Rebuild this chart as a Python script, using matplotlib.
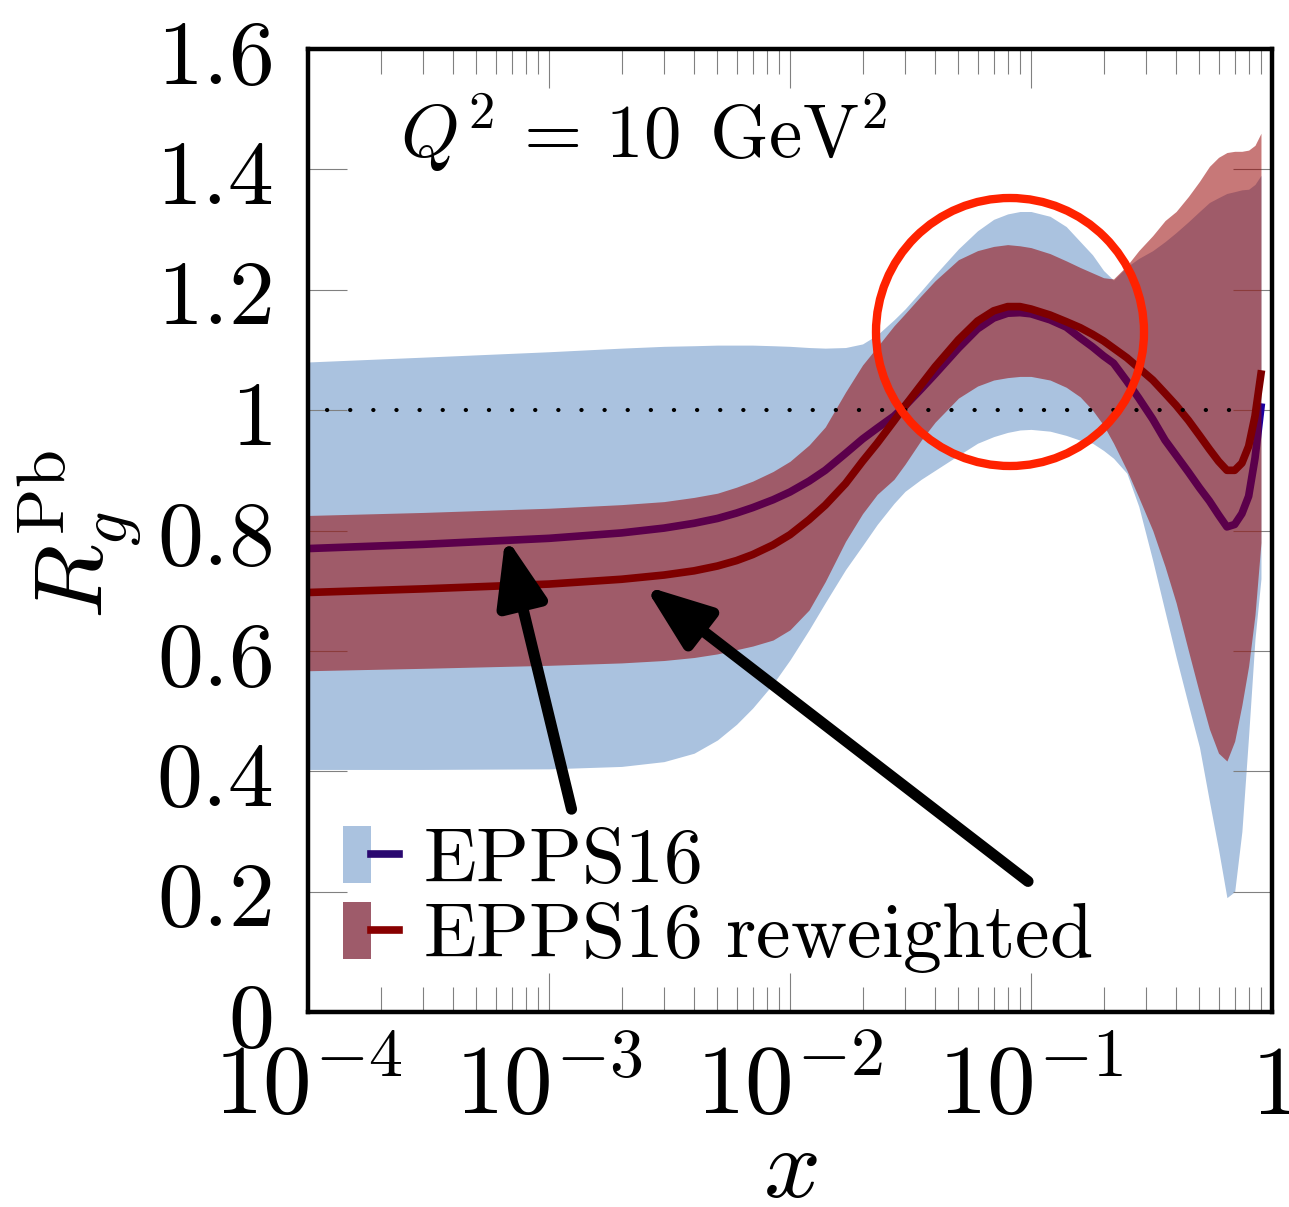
import matplotlib
matplotlib.use("Agg")
import matplotlib.pyplot as plt
from matplotlib.patches import Patch, Ellipse
from matplotlib.lines import Line2D
from matplotlib.legend_handler import HandlerTuple
import numpy as np

plt.rcParams['mathtext.fontset'] = 'cm'
plt.rcParams['font.family'] = ['DejaVu Serif']

# ---- data ----
x = [1e-4, 3e-4, 1e-3, 2e-3, 3e-3, 4e-3, 5e-3, 6e-3, 7e-3, 8.5e-3,
     0.01, 0.012, 0.014, 0.017, 0.02, 0.023, 0.027, 0.03, 0.035, 0.04,
     0.05, 0.06, 0.07, 0.08, 0.09, 0.1, 0.12, 0.14, 0.16, 0.18,
     0.2, 0.22, 0.25, 0.28, 0.32, 0.36, 0.4, 0.45, 0.5, 0.55,
     0.6, 0.65, 0.7, 0.75, 0.8, 0.85, 0.9]

epps_central = [0.770, 0.777, 0.787, 0.796, 0.804, 0.812, 0.820, 0.829, 0.838, 0.851,
                0.864, 0.882, 0.900, 0.928, 0.952, 0.970, 0.990, 1.007, 1.035, 1.060,
                1.103, 1.135, 1.153, 1.161, 1.162, 1.160, 1.150, 1.138, 1.120, 1.105,
                1.090, 1.078, 1.048, 1.020, 0.985, 0.950, 0.925, 0.897, 0.871, 0.849,
                0.826, 0.806, 0.810, 0.828, 0.857, 0.920, 1.005]
epps_upper = [1.080, 1.088, 1.097, 1.103, 1.106, 1.107, 1.108, 1.108, 1.108, 1.107,
              1.106, 1.104, 1.103, 1.104, 1.110, 1.125, 1.150, 1.168, 1.198, 1.225,
              1.268, 1.298, 1.317, 1.326, 1.330, 1.330, 1.322, 1.305, 1.280, 1.258,
              1.232, 1.216, 1.238, 1.252, 1.265, 1.280, 1.295, 1.313, 1.330, 1.345,
              1.353, 1.360, 1.363, 1.366, 1.367, 1.375, 1.390]
epps_lower = [0.403, 0.403, 0.404, 0.408, 0.416, 0.430, 0.452, 0.478, 0.505, 0.545,
              0.585, 0.635, 0.680, 0.735, 0.775, 0.810, 0.845, 0.865, 0.885, 0.900,
              0.925, 0.945, 0.956, 0.963, 0.967, 0.968, 0.965, 0.958, 0.950, 0.945,
              0.933, 0.920, 0.895, 0.840, 0.750, 0.665, 0.590, 0.510, 0.440, 0.350,
              0.270, 0.190, 0.200, 0.300, 0.460, 0.620, 0.720]

rew_central = [0.697, 0.703, 0.711, 0.719, 0.726, 0.733, 0.741, 0.750, 0.760, 0.776,
               0.793, 0.818, 0.842, 0.878, 0.915, 0.945, 0.982, 1.007, 1.042, 1.072,
               1.117, 1.148, 1.165, 1.172, 1.172, 1.168, 1.158, 1.147, 1.137, 1.126,
               1.115, 1.103, 1.087, 1.070, 1.050, 1.028, 1.008, 0.983, 0.958, 0.935,
               0.915, 0.900, 0.900, 0.912, 0.940, 0.990, 1.060]
rew_upper = [0.825, 0.830, 0.837, 0.843, 0.848, 0.855, 0.862, 0.872, 0.882, 0.898,
             0.915, 0.942, 0.972, 1.030, 1.075, 1.105, 1.140, 1.160, 1.190, 1.215,
             1.250, 1.265, 1.272, 1.275, 1.273, 1.270, 1.260, 1.248, 1.237, 1.228,
             1.220, 1.218, 1.240, 1.265, 1.290, 1.315, 1.330, 1.355, 1.380, 1.405,
             1.420, 1.428, 1.430, 1.430, 1.432, 1.440, 1.460]
rew_lower = [0.567, 0.571, 0.576, 0.580, 0.584, 0.589, 0.595, 0.602, 0.608, 0.618,
             0.635, 0.668, 0.715, 0.782, 0.828, 0.860, 0.885, 0.910, 0.950, 0.980,
             1.020, 1.040, 1.050, 1.054, 1.056, 1.056, 1.050, 1.038, 1.022, 1.000,
             0.975, 0.945, 0.900, 0.855, 0.800, 0.740, 0.680, 0.600, 0.530, 0.470,
             0.430, 0.417, 0.450, 0.510, 0.575, 0.660, 0.780]

xticks_major = [1e-4, 1e-3, 1e-2, 1e-1, 1]
xtick_labels = [r'$10^{-4}$', r'$10^{-3}$', r'$10^{-2}$', r'$10^{-1}$', r'$1$']
yticks = [0, 0.2, 0.4, 0.6, 0.8, 1.0, 1.2, 1.4, 1.6]
ytick_labels = [r'$0$', r'$0.2$', r'$0.4$', r'$0.6$', r'$0.8$', r'$1$', r'$1.2$', r'$1.4$', r'$1.6$']

series_labels = [r'$\mathrm{EPPS16}$', r'$\mathrm{EPPS16\ reweighted}$']

# ---- styles ----
blue_band = '#AAC2DF'
blue_line = '#1A00A0'
blue_line_legend = '#2A0870'
red_band = (150/255, 0, 0, 0.53)
red_band_legend = '#9E5B6A'
red_line = '#7E0000'

fig = plt.figure(figsize=(12.89, 12.07), dpi=100)
ax = fig.add_axes([308/1289, 1 - 1012/1207, 964/1289, 963/1207])

ax.fill_between(x, epps_lower, epps_upper, color=blue_band, lw=0, zorder=1)
ax.plot(x, epps_central, color=blue_line, lw=5.5, zorder=2, solid_joinstyle='round')
ax.fill_between(x, rew_lower, rew_upper, color=red_band, lw=0, zorder=3)
ax.plot(x, rew_central, color=red_line, lw=5.5, zorder=4, solid_joinstyle='round')
ax.axhline(1.0, xmin=0.02, xmax=0.96, color='black', lw=3, linestyle=(0, (0.05, 5.5)),
           dash_capstyle='round', zorder=5)

ax.set_xscale('log')
ax.set_xlim(1e-4, 1)
ax.set_ylim(0, 1.6)
ax.set_xticks(xticks_major)
ax.set_xticklabels(xtick_labels)
ax.set_yticks(yticks)
ax.set_yticklabels(ytick_labels)
ax.xaxis.set_minor_locator(matplotlib.ticker.LogLocator(base=10, subs=np.arange(2, 10), numticks=20))
ax.xaxis.set_minor_formatter(matplotlib.ticker.NullFormatter())

ax.tick_params(axis='both', which='major', direction='in', length=28, width=0.8,
               color='#808080', top=True, right=True)
ax.tick_params(axis='x', which='minor', direction='in', length=18, width=0.8,
               color='#808080', top=True, bottom=True)
ax.tick_params(axis='x', which='major', pad=20, labelsize=70)
ax.tick_params(axis='y', which='major', pad=26, labelsize=66)
for s in ax.spines.values():
    s.set_linewidth(3.2)
    s.set_color('black')
    s.set_zorder(10)

ax.text(0.095, 0.887, r'$Q^2\,=\,10\;\,\mathrm{GeV}^2$', transform=ax.transAxes,
        fontsize=54, va='baseline', ha='left')

fig.text(80/1289, 1 - 535/1207, r'$R_g^{\mathrm{Pb}}$', rotation=90, fontsize=70,
         ha='center', va='center')
fig.text(790/1289, 1 - 1197/1207, r'$x$', fontsize=72, ha='center', va='baseline')

# arrows
ax.annotate('', xy=(6.6e-4, 0.79), xytext=(1.24e-3, 0.337),
            arrowprops=dict(arrowstyle='-|>,head_length=1.6,head_width=0.6', lw=8,
                            color='black', mutation_scale=25, shrinkA=0, shrinkB=0),
            zorder=8)
ax.annotate('', xy=(2.49e-3, 0.708), xytext=(0.0972, 0.217),
            arrowprops=dict(arrowstyle='-|>,head_length=1.6,head_width=0.6', lw=8,
                            color='black', mutation_scale=25, shrinkA=0, shrinkB=0),
            zorder=8)

circ = Ellipse(((1010 - 308)/964, (1012 - 332)/963), 268/964, 268/963,
               transform=ax.transAxes, fill=False, edgecolor='#FF2200', lw=6, zorder=9)
ax.add_patch(circ)

h1 = (Patch(facecolor=blue_band, edgecolor='none'), Line2D([], [], color=blue_line_legend, lw=5.5))
h2 = (Patch(facecolor=red_band_legend, edgecolor='none'), Line2D([], [], color='#880000', lw=5.5))
leg = ax.legend([h1, h2], series_labels, handler_map={tuple: HandlerTuple(ndivide=None, pad=0)},
                loc='lower left', bbox_to_anchor=(0.036, 0.038), borderaxespad=0, borderpad=0,
                frameon=False, fontsize=56, handlelength=0.72, handleheight=0.75,
                handletextpad=0.31, labelspacing=0.0)
leg.set_zorder(7)

fig.savefig('out.png', dpi=100)
